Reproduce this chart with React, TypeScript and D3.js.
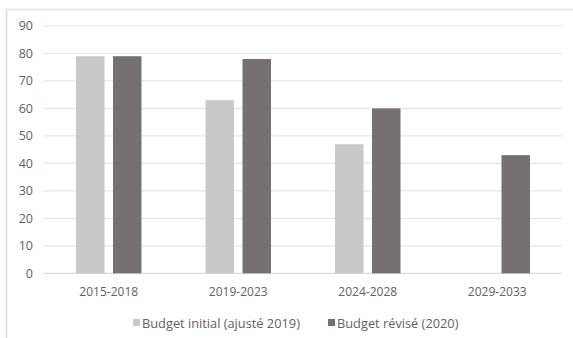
import React from "react";
import * as d3 from "d3";

const categories = ["2015-2018", "2019-2023", "2024-2028", "2029-2033"];
const seriesNames = ["Budget initial (ajusté 2019)", "Budget révisé (2020)"];
const budgetInitial: (number | null)[] = [79, 63, 47, null];
const budgetRevise: (number | null)[] = [79, 78, 60, 43];
const yTicks = [0, 10, 20, 30, 40, 50, 60, 70, 80, 90];

const colors = ["#cbc9c8", "#767170"];
const textColor = "#656061";
const font = "'Open Sans', sans-serif";

export default function App() {
  const W = 573, H = 338;
  const left = 44, right = 562, top = 26, bottom = 273.3;
  const x = d3.scaleBand<string>().domain(categories).range([left, right]).paddingInner(0).paddingOuter(0);
  const y = d3.scaleLinear().domain([0, 90]).range([bottom, top]);
  const barW = x.bandwidth() * 0.22;
  const gap = 8.5;
  const series = [budgetInitial, budgetRevise];

  return (
    <svg width={W} height={H} style={{ position: "absolute", left: 0, top: 0, background: "#fff" }}>
      <rect x={0} y={0} width={W} height={H} fill="#fff" />
      <line x1={6.5} x2={6.5} y1={9} y2={H} stroke="#dcdad9" strokeWidth={1.5} />
      <line x1={6} x2={W} y1={9.5} y2={9.5} stroke="#e4e2e2" strokeWidth={1.5} />
      {yTicks.map((t) => (
        <g key={t}>
          <line x1={left} x2={right} y1={y(t)} y2={y(t)} stroke={t === 0 ? "#dddada" : "#e8e5e5"} strokeWidth={1.2} />
          <text x={33} y={y(t)} dy="0.35em" textAnchor="end" fontSize={12.5} fontFamily={font} fill={textColor}>{t}</text>
        </g>
      ))}
      {categories.map((c, i) => {
        const cx = (x(c) ?? 0) + x.bandwidth() / 2;
        return (
          <g key={c}>
            {series.map((s, si) => {
              const v = s[i];
              if (v == null) return null;
              const bx = si === 0 ? cx - gap / 2 - barW : cx + gap / 2;
              return <rect key={si} x={bx} y={y(v)} width={barW} height={y(0) - y(v)} fill={colors[si]} />;
            })}
            <text x={cx} y={296} textAnchor="middle" fontSize={12} fontFamily={font} fill={textColor}>{c}</text>
          </g>
        );
      })}
      <g>
        <rect x={133} y={319} width={7} height={7} fill={colors[0]} />
        <text x={142} y={327.5} fontSize={12.8} fontFamily={font} fill={textColor}>{seriesNames[0]}</text>
        <rect x={328} y={319} width={7} height={7} fill={colors[1]} />
        <text x={337} y={327.5} fontSize={12.8} fontFamily={font} fill={textColor}>{seriesNames[1]}</text>
      </g>
    </svg>
  );
}
